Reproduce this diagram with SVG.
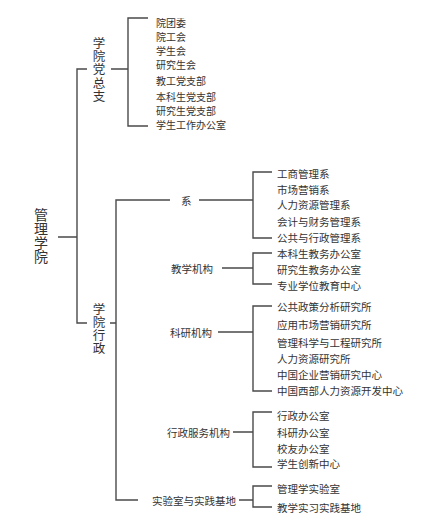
<svg xmlns="http://www.w3.org/2000/svg" width="426" height="531" viewBox="0 0 426 531">
<style>
.ln{stroke:#4a4a4a;stroke-width:1.4;fill:none}
text{font-family:"Noto Sans CJK SC","Noto Sans",sans-serif;fill:#333;dominant-baseline:central}
.v{writing-mode:vertical-rl;text-anchor:middle}
.t1{font-size:14px}
.t2{font-size:12.5px;letter-spacing:0.6px}
.t3{font-size:10.5px}
.t4{font-size:10.5px}
.t5{font-size:10px}
</style>
<rect width="426" height="531" fill="#fff"/>
<g id="connectors">
<path class="ln" d="M58,237H77M87,69H77V323H87"/>
<path class="ln" d="M111,69H128M148,18H128V126H148"/>
<path class="ln" d="M110,323H116M170,200H116V500H138"/>
<path class="ln" d="M199,200H253M272,172H253V238H272"/>
<path class="ln" d="M222,268H253M272,253H253V284H272"/>
<path class="ln" d="M218,332H253M272,306H253V391H272"/>
<path class="ln" d="M233,432H253M272,412H253V467H272"/>
<path class="ln" d="M239,500H253M272,486H253V507H272"/>
</g>
<g id="root"><text class="v t1" x="41" y="236">管理学院</text></g>
<g id="dangzongzhi"><text class="v t2" x="99" y="70">学院党总支</text></g>
<g id="dang-items">
<text class="t5" x="156" y="22">院团委</text>
<text class="t5" x="156" y="36">院工会</text>
<text class="t5" x="156" y="50">学生会</text>
<text class="t5" x="156" y="64">研究生会</text>
<text class="t5" x="156" y="80">教工党支部</text>
<text class="t5" x="156" y="96">本科生党支部</text>
<text class="t5" x="156" y="110">研究生党支部</text>
<text class="t5" x="156" y="124">学生工作办公室</text>
</g>
<g id="xingzheng"><text class="v t2" x="99" y="329">学院行政</text></g>
<g id="xi"><text class="t3" x="181" y="200">系</text></g>
<g id="xi-items">
<text class="t4" x="277" y="173">工商管理系</text>
<text class="t4" x="277" y="189">市场营销系</text>
<text class="t4" x="277" y="204">人力资源管理系</text>
<text class="t4" x="277" y="221">会计与财务管理系</text>
<text class="t4" x="277" y="237">公共与行政管理系</text>
</g>
<g id="jiaoxue"><text class="t3" x="171" y="268">教学机构</text></g>
<g id="jiaoxue-items">
<text class="t4" x="277" y="253">本科生教务办公室</text>
<text class="t4" x="277" y="269">研究生教务办公室</text>
<text class="t4" x="277" y="285">专业学位教育中心</text>
</g>
<g id="keyan"><text class="t3" x="170" y="332">科研机构</text></g>
<g id="keyan-items">
<text class="t4" x="277" y="306">公共政策分析研究所</text>
<text class="t4" x="277" y="324">应用市场营销研究所</text>
<text class="t4" x="277" y="342">管理科学与工程研究所</text>
<text class="t4" x="277" y="358">人力资源研究所</text>
<text class="t4" x="277" y="374">中国企业营销研究中心</text>
<text class="t4" x="277" y="390">中国西部人力资源开发中心</text>
</g>
<g id="fuwu"><text class="t3" x="167" y="432">行政服务机构</text></g>
<g id="fuwu-items">
<text class="t4" x="277" y="415">行政办公室</text>
<text class="t4" x="277" y="432">科研办公室</text>
<text class="t4" x="277" y="448">校友办公室</text>
<text class="t4" x="277" y="463">学生创新中心</text>
</g>
<g id="shiyan"><text class="t3" x="152" y="500">实验室与实践基地</text></g>
<g id="shiyan-items">
<text class="t4" x="277" y="488">管理学实验室</text>
<text class="t4" x="277" y="507">教学实习实践基地</text>
</g>
</svg>
